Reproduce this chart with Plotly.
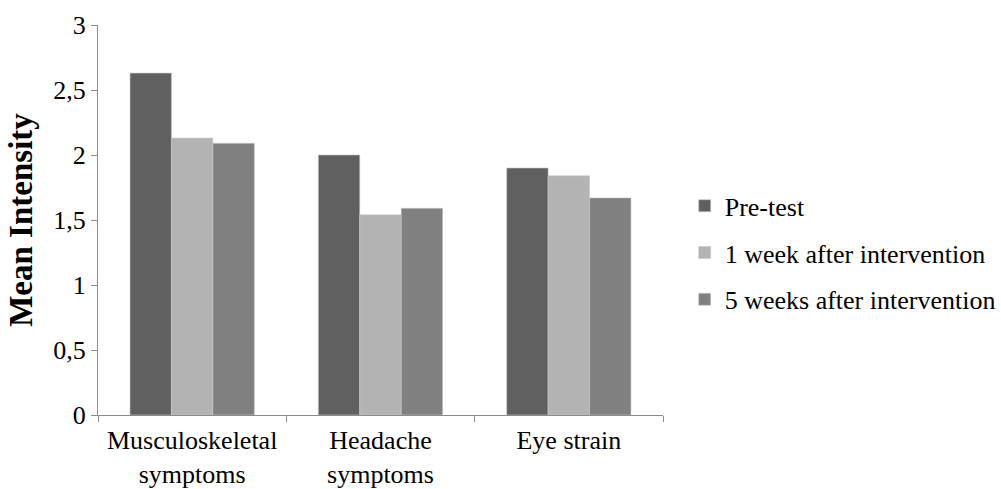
import plotly.graph_objects as go

categories = ["Musculoskeletal<br>symptoms", "Headache<br>symptoms", "Eye strain"]
series_names = ["Pre-test", "1 week after intervention", "5 weeks after intervention"]
pre_test = [2.63, 2.00, 1.90]
week_1 = [2.13, 1.54, 1.84]
weeks_5 = [2.09, 1.59, 1.67]
colors = ["#606060", "#b3b3b3", "#808080"]

font_family = "Liberation Serif"
label_size = 26

fig = go.Figure()
for name, vals, col in zip(series_names, [pre_test, week_1, weeks_5], colors):
    fig.add_trace(go.Bar(
        x=categories, y=vals, name=name, legendgroup=name,
        marker=dict(color=col, line=dict(color="#c8c8c8", width=0.6)),
    ))

fig.update_layout(
    width=1001, height=489,
    margin=dict(l=98, r=338, t=25, b=74),
    paper_bgcolor="white", plot_bgcolor="white",
    barmode="group", bargap=0.34, bargroupgap=0,
    separators=", ",
    font=dict(family=font_family, size=label_size, color="black"),
    showlegend=True,
    legend=dict(
        xref="container", yref="container",
        x=0.684, y=0.483, xanchor="left", yanchor="middle",
        traceorder="grouped", tracegroupgap=10,
        font=dict(family=font_family, size=label_size, color="black"),
        itemwidth=30,
    ),
    xaxis=dict(
        automargin=False,
        showline=True, linecolor="#8c8c8c", linewidth=1,
        ticks="outside", tickson="boundaries", ticklen=6, tickcolor="#8c8c8c",
        ticklabelstandoff=2,
        tickfont=dict(family=font_family, size=label_size, color="black"),
        showgrid=False,
    ),
    yaxis=dict(
        automargin=False,
        range=[0, 3], dtick=0.5, tick0=0,
        showline=True, linecolor="#8c8c8c", linewidth=1,
        ticks="outside", ticklen=6, tickcolor="#8c8c8c",
        tickfont=dict(family=font_family, size=label_size, color="black"),
        showgrid=False, zeroline=False,
        title=dict(text="<b>Mean Intensity</b>", standoff=10,
                   font=dict(family=font_family, size=33, color="black")),
    ),
)

fig.write_html("out.html")
